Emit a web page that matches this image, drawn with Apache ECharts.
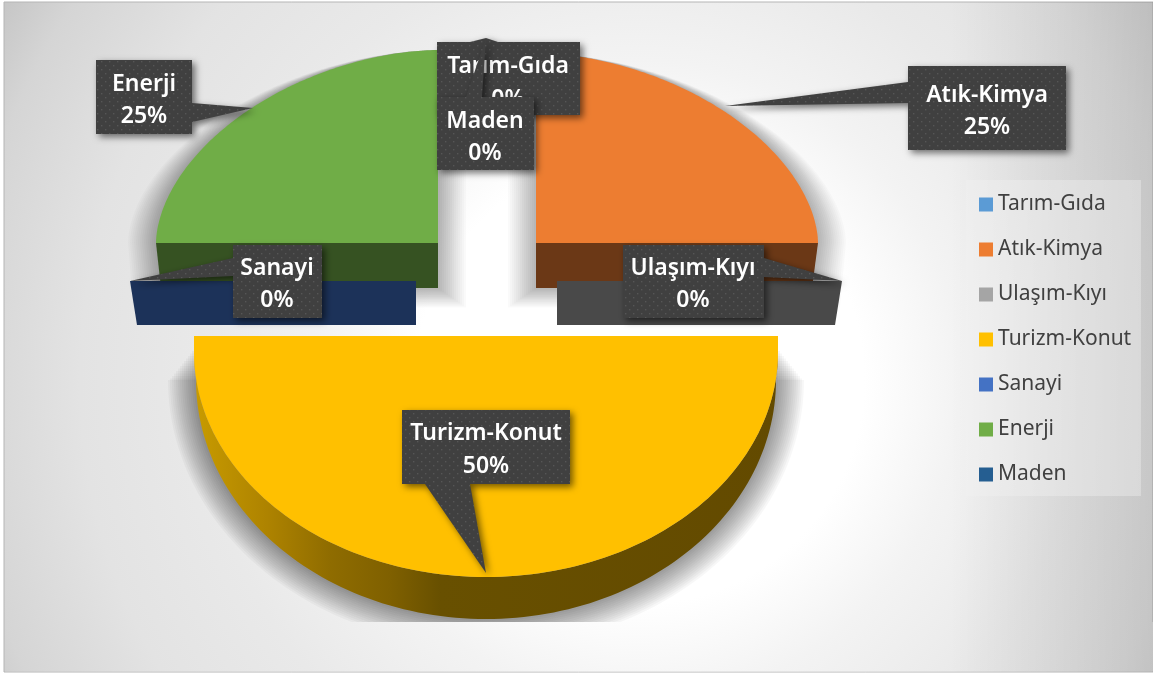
<!DOCTYPE html>
<html><head><meta charset="utf-8">
<style>html,body{margin:0;padding:0;background:#fff}#c{width:1153px;height:675px}</style>
<script src="https://cdn.jsdelivr.net/npm/echarts@6/dist/echarts.min.js"></script>
</head><body><div id="c"></div>
<script>
var categories = ['Tarım-Gıda','Atık-Kimya','Ulaşım-Kıyı','Turizm-Konut','Sanayi','Enerji','Maden'];
var values = [0,25,0,50,0,25,0];
var colors = ['#5B9BD5','#ED7D31','#A5A5A5','#FFC000','#4472C4','#70AD47','#255E91'];

// Exploded-slice geometry per category (perspective makes each one differ)
var slices = {
  1:{cx:536,cy:243,rx:282,ry:190,n:1.8,wall:'#6B3816',depth:45,inset:6},
  2:{cx:557,cy:281,rx:285,ry:0,n:2,wall:'#494949',depth:44,inset:7},
  3:{cx:486,cy:352,rx:292,ry:225,n:2,flatTop:336,arc:{cy:380,rx:290,ry:239}},
  4:{cx:416,cy:281,rx:286,ry:0,n:2,wall:'#1C3259',depth:44,inset:-7},
  5:{cx:438,cy:243,rx:282,ry:193,n:1.8,wall:'#365222',depth:45,inset:5}
};
// Callout boxes: [left, top, right, bottom], text line centres, pointer [base a, base b, tip]
var callouts = [
  {box:[437,42,580,115],tx:508,ty:[66,99],tip:[[470,42],[498,42],[486,38]]},
  {box:[908,66,1066,150],tx:987,ty:[95,127],tip:[[908,82],[908,103],[725,106]]},
  {box:[623,245,764,318],tx:693,ty:[268,300],tip:[[764,258],[764,277],[842,281]]},
  {box:[402,410,570,484],tx:486,ty:[433,466],tip:[[425,484],[470,484],[486,573]]},
  {box:[233,245,322,318],tx:277,ty:[268,300],tip:[[233,258],[233,276],[130,281]]},
  {box:[96,60,192,134],tx:144,ty:[84,116],tip:[[192,103],[192,122],[253,108]]},
  {box:[437,97,534,170],tx:485,ty:[121,153],tip:[[466,97],[482,97],[486,38]]}
];

var total = values.reduce(function(a,b){return a+b;},0);
var starts = [], run = 0;
values.forEach(function(v){ starts.push(run); run += v; });
function ang(f){ return f/total*2*Math.PI; }
function spow(u,e){ return (u<0?-1:1)*Math.pow(Math.abs(u),e); }
function pt(s,t){ var e=2/(s.n||2); return [s.cx+s.rx*spow(Math.sin(t),e), s.cy-s.ry*spow(Math.cos(t),e)]; }
function arcPts(s,a,b){ var p=[],n=120; for(var i=0;i<=n;i++){ p.push(pt(s,a+(b-a)*i/n)); } return p; }

function facePoints(i,v){
  var s=slices[i],a=ang(starts[i]),b=ang(starts[i]+v),arc=arcPts(s,a,b);
  if(s.flatTop!==undefined){
    return [[arc[0][0],s.flatTop]].concat(arc,[[arc[arc.length-1][0],s.flatTop]]);
  }
  return [[s.cx,s.cy]].concat(arc);
}
function flatWall(i,v){
  var s=slices[i],a=ang(starts[i]),b=ang(starts[i]+v);
  var t = Math.abs(Math.sin(b))>0.5 ? b : a;           // the radial edge facing the viewer
  var dir = Math.sin(t)>0?1:-1;
  return [[s.cx,s.cy],[s.cx+dir*s.rx,s.cy],[s.cx+dir*(s.rx-Math.abs(s.inset)),s.cy+s.depth],[s.cx,s.cy+s.depth]];
}
function lowArc(i,v){
  var s=slices[i],a=ang(starts[i]),b=ang(starts[i]+v);
  return arcPts({cx:s.cx,cy:s.arc.cy,rx:s.arc.rx,ry:s.arc.ry},a,b);
}
function arcWall(i,v){
  var s=slices[i];
  return arcPts(s,ang(starts[i]),ang(starts[i]+v)).concat(lowArc(i,v).reverse());
}
// Soft shadow: a stack of faint silhouettes, each grown by k pixels
function shadowLayer(i,v,k){
  var s=slices[i],a=ang(starts[i]),b=ang(starts[i]+v),arc;
  if(s.arc){
    arc=arcPts({cx:s.cx,cy:s.arc.cy,rx:s.arc.rx+k,ry:s.arc.ry+k},a,b);
    var top=Math.min(s.arc.cy,346+k*1.25);           // wider layers start lower, so the top fades out
    return [[arc[0][0],top]].concat(arc,[[arc[arc.length-1][0],top]]);
  }
  arc=arcPts({cx:s.cx,cy:s.cy,rx:s.rx+k,ry:s.ry,n:s.n},a,b);
  var dir=Math.sin((a+b)/2)>0?1:-1, inner=s.cx-dir*k, bottom=s.cy+s.depth+k*.7,
      outer=s.cx+dir*(s.rx-Math.abs(s.inset)+k), topY=s.cy-s.ry;
  return dir>0 ? [[inner,topY]].concat(arc,[[outer,bottom],[inner,bottom]])
               : [[inner,bottom],[outer,bottom]].concat(arc,[[inner,topY]]);
}

var bgCx=640,bgCy=380,bgR=800,bgStops=[
  {offset:0,color:'#ffffff'},{offset:.28,color:'#ffffff'},{offset:.4,color:'#f3f3f3'},
  {offset:.55,color:'#e9e9e9'},{offset:.7,color:'#e3e3e3'},{offset:.85,color:'#d5d5d5'},
  {offset:.92,color:'#c7c7c7'},{offset:1,color:'#bbbbbb'}];
function bgFill(){ return new echarts.graphic.RadialGradient(bgCx,bgCy,bgR,bgStops,true); }
function bgRight(){ return new echarts.graphic.LinearGradient(950,0,1153,0,[
  {offset:0,color:'rgba(0,0,0,0)'},{offset:1,color:'rgba(0,0,0,.13)'}],true); }
function bgRects(x,y,w,h,stroke){
  var a={fill:bgFill()}; if(stroke){a.stroke='#b5b5b5';a.lineWidth=1;}
  return [{type:'rect',shape:{x:x,y:y,width:w,height:h},style:a},
          {type:'rect',shape:{x:x,y:y,width:w,height:h},style:{fill:bgRight()}}];
}
function decor(name,z,build){
  return {type:'custom',name:name,coordinateSystem:'none',z:z,silent:true,data:[[0]],
    renderItem:function(){return {type:'group',children:build()};}};
}

var dots=document.createElement('canvas'); dots.width=8; dots.height=8;
(function(){var g=dots.getContext('2d'); g.fillStyle='#404040'; g.fillRect(0,0,8,8);
  g.fillStyle='#565656'; g.fillRect(1,1,1.4,1.4); g.fillRect(5,5,1.4,1.4);})();

var series=[];
series.push(decor('_bg',0,function(){
  return bgRects(4,2,1149,670,true).concat([
    {type:'rect',shape:{x:966,y:180,width:175,height:316},style:{fill:'rgba(242,242,242,.38)'}}]);
}));
// one series per category so the legend is real
categories.forEach(function(name,i){
  series.push({type:'custom',name:name,coordinateSystem:'none',z:3,silent:true,
    itemStyle:{color:colors[i]},data:[[values[i]]],
    renderItem:function(p,api){
      var s=slices[i],v=api.value(0); if(!s) return {type:'group',children:[]};
      var ch=[],base=v>0?(s.arc?2:0):20;
      if(v>0){
        var layerAlpha=s.arc?0.03:0.02;
        for(var k=28,n=0;k>=2;k-=2,n++){
          // each alpha differs slightly so the renderer does not merge the layers
          ch.push({type:'polygon',z2:base,shape:{points:shadowLayer(i,v,k)},
            style:{fill:'rgba(0,0,0,'+(layerAlpha+n*0.0003).toFixed(4)+')'}});
        }
      }
      if(s.arc){
        ch.push({type:'polygon',z2:base+1,shape:{points:arcWall(i,v)},style:{fill:
          new echarts.graphic.LinearGradient(194,0,778,0,[
            {offset:0,color:'#C89B00'},{offset:.125,color:'#AE8300'},{offset:.233,color:'#8F6C00'},
            {offset:.336,color:'#7F6000'},{offset:.421,color:'#685000'},{offset:1,color:'#634A00'}],true)}});
      } else {
        ch.push({type:'polygon',z2:base+1,shape:{points:flatWall(i,v)},style:{fill:s.wall}});
      }
      if(v>0) ch.push({type:'polygon',z2:base+1,shape:{points:facePoints(i,v)},style:{fill:colors[i]}});
      return {type:'group',children:ch};
    }});
});
series.push(decor('_cover',4,function(){ return bgRects(5,622,1148,49.5,false); }));
// data-label callouts
series.push({type:'custom',name:'_labels',coordinateSystem:'none',z:5,silent:true,
  data:values.map(function(v,i){return [v,i];}),
  renderItem:function(p,api){
    var i=api.value(1),c=callouts[i],b=c.box,t=c.tip,pts;
    var tl=[b[0],b[1]],tr=[b[2],b[1]],br=[b[2],b[3]],bl=[b[0],b[3]];
    if(t[0][1]===b[1]&&t[1][1]===b[1]) pts=[tl,t[0],t[2],t[1],tr,br,bl];
    else if(t[0][1]===b[3]) pts=[tl,tr,br,t[1],t[2],t[0],bl];
    else if(t[0][0]===b[2]) pts=[tl,tr,t[0],t[2],t[1],br,bl];
    else pts=[tl,tr,br,bl,t[1],t[2],t[0]];
    var font='600 23px "Noto Sans"';
    return {type:'group',z2:i,children:[
      {type:'polygon',z2:i*3,shape:{points:pts},style:{fill:{image:dots,repeat:'repeat'},
        shadowBlur:7,shadowColor:'rgba(0,0,0,.55)',shadowOffsetX:3,shadowOffsetY:3}},
      {type:'text',z2:i*3+1,style:{text:categories[i],x:c.tx,y:c.ty[0],fill:'#fff',font:font,align:'center',verticalAlign:'middle'}},
      {type:'text',z2:i*3+1,style:{text:Math.round(api.value(0)/total*100)+'%',x:c.tx,y:c.ty[1],fill:'#fff',font:font,align:'center',verticalAlign:'middle'}}
    ]};
  }});

var chart=echarts.init(document.getElementById('c'),null,{renderer:'canvas',width:1153,height:675});
chart.setOption({
  animation:false,backgroundColor:'#fff',
  legend:{orient:'vertical',left:979,top:194,padding:0,data:categories,icon:'rect',itemWidth:14,itemHeight:14,itemGap:24,
    selectedMode:false,textStyle:{color:'#404040',fontFamily:'Noto Sans',fontSize:21}},
  series:series
});
</script></body></html>
